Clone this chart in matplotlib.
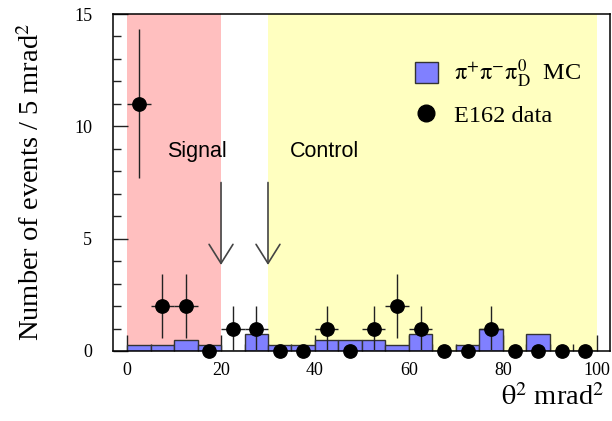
import numpy as np
import matplotlib
matplotlib.use("Agg")
import matplotlib.pyplot as plt
from matplotlib.patches import Patch
from matplotlib.lines import Line2D

# theta^2 bins (5 mrad^2 wide) from 0 to 100
bin_edges = np.arange(0, 105, 5)
bin_centers = bin_edges[:-1] + 2.5

# pi+ pi- pi0_D Monte Carlo (normalised histogram)
mc_counts = [0.25, 0.25, 0.5, 0.25, 0.0, 0.75, 0.25, 0.25, 0.5, 0.5,
             0.5, 0.25, 0.75, 0.0, 0.25, 1.0, 0.0, 0.75, 0.0, 0.0]

# E162 data counts per bin
data_counts = np.array([11, 2, 2, 0, 1, 1, 0, 0, 1, 0,
                        1, 2, 1, 0, 0, 1, 0, 0, 0, 0])

signal_region = (0, 20)
control_region = (30, 100)
cut_positions = [20, 30]

plt.rcParams['font.family'] = ['Liberation Serif', 'DejaVu Serif']
plt.rcParams['mathtext.fontset'] = 'stix'

fig = plt.figure(figsize=(6.12, 4.21), dpi=100)
ax = fig.add_axes([0.1846, 0.1663, 0.8121, 0.8004])

# shaded regions
ax.axvspan(*signal_region, color='#ffbfbf', lw=0, zorder=0)
ax.axvspan(*control_region, color='#ffffc0', lw=0, zorder=0)

# MC histogram
ax.bar(bin_centers, mc_counts, width=5, color='#8080ff',
       edgecolor='#333333', linewidth=1.0, zorder=2)

# data points with Poisson errors
yerr = np.sqrt(data_counts)
xerr = np.where(data_counts > 0, 2.5, 0)
ax.errorbar(bin_centers, data_counts, yerr=yerr, xerr=xerr, fmt='none',
            ecolor='#222222', elinewidth=1.0, capsize=0, zorder=3)
ax.plot(bin_centers, data_counts, 'o', color='black', markersize=9.6,
        zorder=4, clip_on=False)

# cut arrows
for xc in cut_positions:
    ax.annotate('', xy=(xc, 3.83), xytext=(xc, 7.5),
                arrowprops=dict(arrowstyle='->,head_length=1.37,head_width=0.86',
                                mutation_scale=10, color='#444444', lw=1.2,
                                shrinkA=0, shrinkB=0), zorder=3)

ax.text(8.5, 8.63, 'Signal', family='Liberation Sans', fontsize=15.5)
ax.text(34.7, 8.63, 'Control', family='Liberation Sans', fontsize=15.5)

# legend
handles = [Patch(facecolor='#8080ff', edgecolor='#333333', linewidth=1.0),
           Line2D([], [], marker='o', color='black', linestyle='none', markersize=12)]
labels = [r'$\mathrm{\pi^{+}\pi^{-}\pi^{0}_{D}}$  MC', 'E162 data']
ax.legend(handles, labels, loc='upper left', bbox_to_anchor=(0.607, 0.87),
          frameon=False, fontsize=17.5, handlelength=0.95, handleheight=0.95,
          handletextpad=0.65, labelspacing=0.55, borderpad=0, borderaxespad=0)

ax.set_xlim(-3, 102.8)
ax.set_ylim(0, 15)
ax.set_xticks(np.arange(0, 101, 20))
ax.set_xticks(np.arange(0, 101, 5), minor=True)
ax.set_yticks(np.arange(0, 16, 5))
ax.set_yticks(np.arange(0, 16, 1), minor=True)
ax.tick_params(which='both', direction='in', top=False, right=False,
               labelsize=13, width=1.0, color='#222222')
ax.tick_params(axis='y', which='major', length=10.8, pad=15)
ax.tick_params(axis='y', which='minor', length=5.4)
ax.tick_params(axis='x', which='major', length=11.5, pad=8)
ax.tick_params(axis='x', which='minor', length=5.4)
for sp in ax.spines.values():
    sp.set_linewidth(1.1)

fig.text(32 / 612, 1 - 182 / 421, r'Number of events / 5 mrad$^2$',
         rotation=90, ha='center', va='center', fontsize=20.5)
fig.text(604 / 612, 1 - 405 / 421, r'$\mathrm{\theta}^2$ mrad$^2$',
         ha='right', va='baseline', fontsize=20.5)

fig.savefig('out.png', dpi=100)
